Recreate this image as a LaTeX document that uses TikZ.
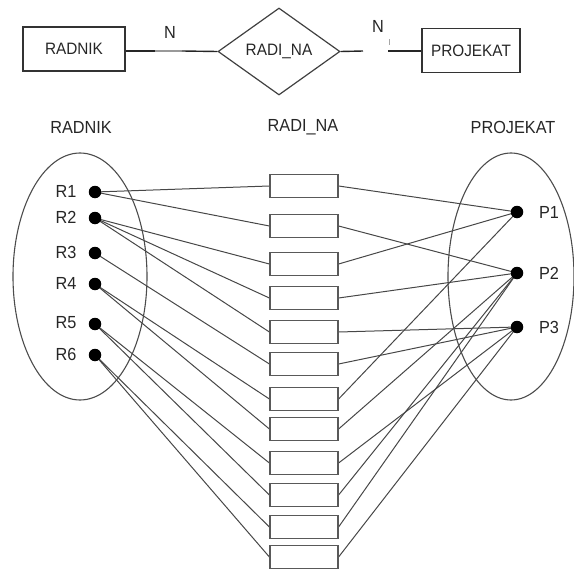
\documentclass[tikz,border=0pt]{standalone}
\usepackage{fontspec}
\setmainfont{Liberation Sans}[FakeStretch=0.93]
\usetikzlibrary{shapes.geometric,backgrounds}
\begin{document}
\begin{tikzpicture}[x=1pt,y=-1pt,
  txt/.style={inner sep=0pt, text=black!85, font=\fontsize{17.5}{19}\selectfont},
  ent/.style={draw=black!80, line width=1.2pt, inner sep=0pt, minimum height=44pt, text=black!85, font=\fontsize{16.5}{19}\selectfont},
  rel/.style={diamond, draw=black!75, line width=1.2pt, inner sep=0pt, aspect=1.4, minimum width=122pt, minimum height=87pt, text=black!85, font=\fontsize{16.5}{19}\selectfont},
  setell/.style={ellipse, draw=black!70, line width=1.1pt, inner sep=0pt},
  dotnode/.style={circle, fill=black, inner sep=0pt, minimum size=12.5pt},
  relbox/.style={draw=black!65, line width=1.2pt, inner sep=0pt, minimum width=68pt, minimum height=23pt},
  link/.style={draw=black!72, line width=1pt},
  erline/.style={draw=black!85, line width=1.4pt}]
\useasboundingbox (0,0) rectangle (574,570);

% --- top ER diagram ---
\node[ent, minimum width=102pt] (eR) at (74,49) {RADNIK};
\node[rel] (dR) at (279,51.5) {RADI\_NA};
\node[ent, minimum width=98pt] (eP) at (471,50.5) {PROJEKAT};
\coordinate (la) at (155,51);
\coordinate (lb) at (182,51);
\coordinate (ra) at (363,51);
\coordinate (rb) at (388,51);
\draw[erline] (eR.east |- la) -- (la);
\draw[draw=black!40, line width=1.4pt] (la) -- (lb);
\draw[erline] (lb) -- (dR.west);
\draw[erline] (dR.east) -- (ra);
\draw[erline] (rb) -- (eP.west |- rb);
\draw[draw=black!35, line width=0.8pt] (389,39) -- (389,45);
\node[txt] (nL) at (170,32) {N};
\node[txt] (nR) at (378,26) {N};

% --- column headings ---
\node[txt] (hR) at (81,127) {RADNIK};
\node[txt] (hA) at (303,127) {RADI\_NA};
\node[txt] (hP) at (513,127) {PROJEKAT};

% --- sets ---
\node[setell, minimum width=134pt, minimum height=247pt] (setR) at (80,276.5) {};
\node[setell, minimum width=126pt, minimum height=247pt] (setP) at (511,276.5) {};

% --- RADNIK elements ---
\foreach \i/\y in {1/192,2/218,3/253,4/284,5/324,6/355} {
  \node[dotnode] (r\i) at (95,\y) {};
  \node[txt] (rl\i) at (66,\y-1) {R\i};
}
% --- PROJEKAT elements ---
\foreach \i/\y in {1/212,2/273,3/327} {
  \node[dotnode] (p\i) at (517,\y) {};
  \node[txt] (pl\i) at (549,\y) {P\i};
}
% --- RADI_NA pairs ---
\foreach \i/\y in {1/186,2/226,3/264,4/298,5/332,6/364,7/399,8/429,9/463,10/495,11/527,12/557} {
  \node[relbox] (b\i) at (304,\y) {};
}

% --- connections ---
\begin{scope}[on background layer]
\foreach \r/\b in {1/1,1/2,2/3,2/4,2/5,3/6,4/7,4/8,5/9,5/10,6/11,6/12} {
  \draw[link] (r\r.center) -- (b\b.west);
}
\foreach \b/\p in {1/1,2/2,3/1,4/2,5/3,6/3,7/1,8/2,9/3,10/2,11/2,12/3} {
  \draw[link] (b\b.east) -- (p\p.center);
}
\end{scope}
\end{tikzpicture}
\end{document}
